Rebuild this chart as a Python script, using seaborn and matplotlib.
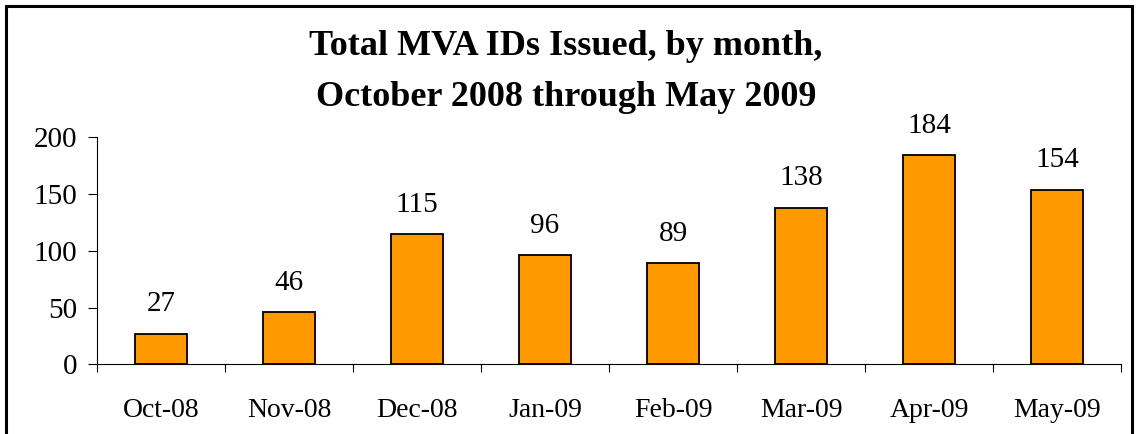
import matplotlib
matplotlib.use("Agg")
import matplotlib.pyplot as plt
import matplotlib.patches as mpatches
import numpy as np
import pandas as pd
import seaborn as sns

months = ["Oct-08", "Nov-08", "Dec-08", "Jan-09", "Feb-09", "Mar-09", "Apr-09", "May-09"]
ids_issued = [27, 46, 115, 96, 89, 138, 184, 154]
y_ticks = [0, 50, 100, 150, 200]

df = pd.DataFrame({"month": months, "ids": ids_issued})

sns.set_style("white")
plt.rcParams["font.family"] = ["Liberation Serif", "DejaVu Serif"]
plt.rcParams["text.color"] = "black"
plt.rcParams["xtick.color"] = "black"
plt.rcParams["ytick.color"] = "black"

fig = plt.figure(figsize=(11.39, 4.34), dpi=100)
ax = fig.add_axes([0.0852, 0.1606, 0.8990, 0.5230])

sns.barplot(data=df, x="month", y="ids", color="#FF9900", edgecolor="black",
            linewidth=1.3, width=0.4, saturation=1, ax=ax)

for i, v in enumerate(ids_issued):
    ax.annotate(str(v), (i, v), xytext=(0, 16), textcoords="offset points",
                ha="center", va="baseline", fontsize=21, color="black")

ax.set_xlim(-0.5, len(months) - 0.5)
ax.set_ylim(0, 200)
ax.set_yticks(y_ticks)
ax.set_xlabel("")
ax.set_ylabel("")
ax.set_xticks(np.arange(len(months) + 1) - 0.5, minor=True)
ax.tick_params(axis="x", which="major", length=0, pad=24, labelsize=20)
ax.tick_params(axis="x", which="minor", bottom=True, length=6, width=0.8,
               direction="out", color="black")
ax.tick_params(axis="y", left=True, length=6.5, width=0.8, direction="out",
               color="black", pad=8, labelsize=21)
sns.despine(ax=ax, top=True, right=True)
for s in ["left", "bottom"]:
    ax.spines[s].set_color("black")
    ax.spines[s].set_linewidth(0.8)

fig.text(0.497, 0.873, "Total MVA IDs Issued, by month,", ha="center", va="baseline",
         fontsize=26, fontweight="bold", color="black")
fig.text(0.497, 0.756, "October 2008 through May 2009", ha="center", va="baseline",
         fontsize=26, fontweight="bold", color="black")

border = mpatches.Rectangle((6 / 1139, -0.1), (1132 - 6) / 1139, 1.1 - 6 / 434,
                            transform=fig.transFigure, fill=False, edgecolor="black",
                            linewidth=2.2, clip_on=False)
fig.patches.append(border)

fig.savefig("out.png", dpi=100)
